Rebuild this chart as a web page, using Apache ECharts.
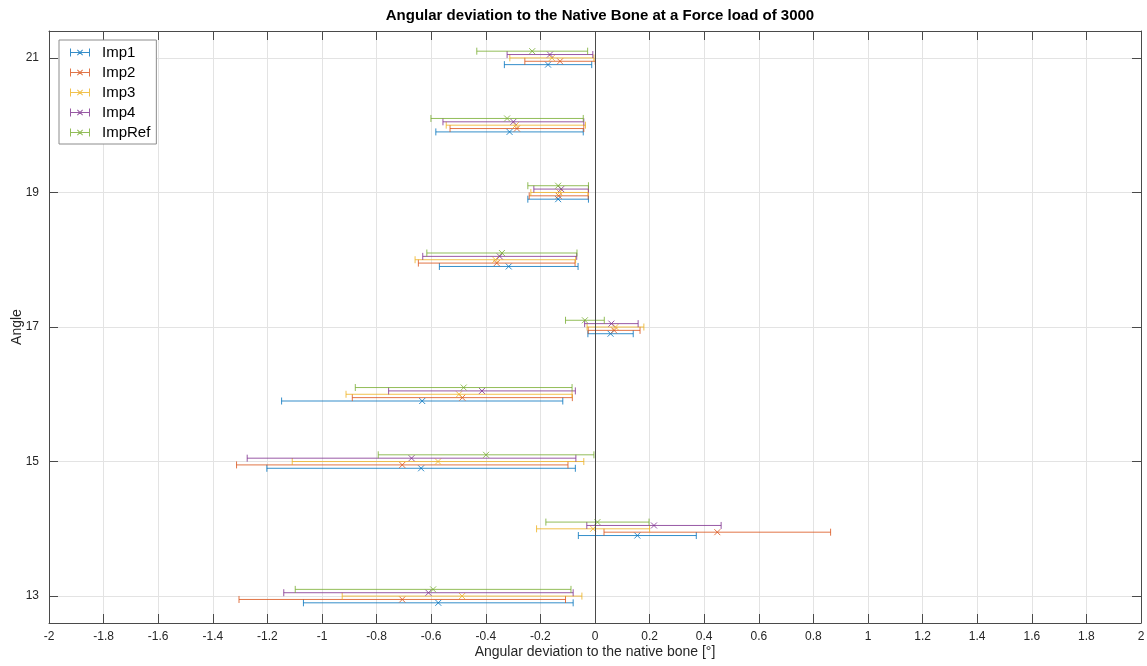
<!DOCTYPE html>
<html><head><meta charset="utf-8">
<script src="https://cdn.jsdelivr.net/npm/echarts@6/dist/echarts.min.js"></script>
<style>html,body{margin:0;padding:0;background:#fff}#c{width:1147px;height:666px}</style>
</head><body><div id="c"></div>
<script>
// ---- data ----
const angles = [13, 14, 15, 16, 17, 18, 19, 20, 21];
const seriesNames = ['Imp1', 'Imp2', 'Imp3', 'Imp4', 'ImpRef'];
// mean angular deviation [deg]
const imp1Mean   = [-0.574, 0.155, -0.637, -0.633, 0.057, -0.316, -0.135, -0.313, -0.172];
const imp2Mean   = [-0.706, 0.448, -0.706, -0.486, 0.070, -0.360, -0.133, -0.286, -0.128];
const imp3Mean   = [-0.487, -0.007, -0.575, -0.498, 0.075, -0.365, -0.130, -0.290, -0.158];
const imp4Mean   = [-0.610, 0.216, -0.672, -0.414, 0.060, -0.349, -0.124, -0.299, -0.165];
const impRefMean = [-0.593, 0.009, -0.399, -0.481, -0.037, -0.341, -0.135, -0.322, -0.230];
// symmetric error (half width)
const imp1Err   = [0.494, 0.216, 0.565, 0.515, 0.083, 0.254, 0.111, 0.270, 0.160];
const imp2Err   = [0.598, 0.415, 0.607, 0.403, 0.095, 0.287, 0.108, 0.245, 0.129];
const imp3Err   = [0.439, 0.207, 0.534, 0.414, 0.104, 0.294, 0.105, 0.255, 0.154];
const imp4Err   = [0.530, 0.246, 0.602, 0.342, 0.098, 0.282, 0.100, 0.258, 0.157];
const impRefErr = [0.505, 0.189, 0.395, 0.397, 0.071, 0.275, 0.111, 0.279, 0.203];
const yTickValues = [13, 15, 17, 19, 21];

// ---- styling ----
const means = [imp1Mean, imp2Mean, imp3Mean, imp4Mean, impRefMean];
const errs = [imp1Err, imp2Err, imp3Err, imp4Err, impRefErr];
const colors = ['#0072BD', '#D95319', '#EDB120', '#7E2F8E', '#77AC30'];
const offsets = [-0.1, -0.05, 0, 0.05, 0.1];
const axisColor = '#4a4a4a';
const txt = '#262626';
const font = 'Liberation Sans, Arial, sans-serif';

const legendIcon = 'path://M0 3.5H20V4.5H0Z M0 0H1V8H0Z M19 0H20V8H19Z M7 1.7L7.7 1L13 6.3L12.3 7Z M13 1.7L12.3 1L7 6.3L7.7 7Z';

function makeRender(idx) {
  return function (params, api) {
    const y = api.value(0) + offsets[idx];
    const m = api.value(1), e = api.value(2);
    const pL = api.coord([m - e, y]);
    const pR = api.coord([m + e, y]);
    const pM = api.coord([m, y]);
    const cap = 3.5, xs = 3;
    const st = { stroke: colors[idx], lineWidth: 1, fill: null, opacity: 0.8 };
    const ln = (x1, y1, x2, y2) => ({ type: 'line', shape: { x1, y1, x2, y2 }, style: st });
    return {
      type: 'group',
      children: [
        ln(pL[0], pL[1], pR[0], pR[1]),
        ln(pL[0], pL[1] - cap, pL[0], pL[1] + cap),
        ln(pR[0], pR[1] - cap, pR[0], pR[1] + cap),
        ln(pM[0] - xs, pM[1] - xs, pM[0] + xs, pM[1] + xs),
        ln(pM[0] - xs, pM[1] + xs, pM[0] + xs, pM[1] - xs)
      ]
    };
  };
}

const series = seriesNames.map((name, i) => {
  const s = {
    name: name,
    type: 'custom',
    xAxisIndex: 0,
    yAxisIndex: 0,
    renderItem: makeRender(i),
    itemStyle: { color: colors[i], opacity: 0.8 },
    encode: { x: [1], y: 0 },
    data: angles.map((a, k) => [a, means[i][k], errs[i][k]]),
    z: 3,
    silent: true
  };
  if (i === 0) {
    s.markLine = {
      silent: true,
      symbol: ['none', 'none'],
      label: { show: false },
      lineStyle: { color: axisColor, width: 1, type: 'solid' },
      data: [{ xAxis: 0 }],
      animation: false
    };
  }
  return s;
});

const chart = echarts.init(document.getElementById('c'), null, { renderer: 'canvas' });
chart.setOption({
  animation: false,
  backgroundColor: '#fff',
  title: {
    text: 'Angular deviation to the Native Bone at a Force load of 3000',
    left: 595, top: 3, textAlign: 'center',
    textStyle: { fontFamily: font, fontSize: 15, fontWeight: 'bold', color: '#000' }
  },
  legend: {
    left: 59, top: 40,
    orient: 'vertical',
    data: seriesNames.map(n => ({ name: n, icon: legendIcon })),
    itemWidth: 20, itemHeight: 8, itemGap: 5,
    backgroundColor: '#fff',
    borderColor: '#8c8c8c', borderWidth: 1,
    padding: [5, 6, 4, 11],
    textStyle: { fontFamily: font, fontSize: 15, color: '#000', lineHeight: 14.5, padding: [0, 0, 0, 7] }
  },
  grid: { left: 49, right: 6, top: 31, bottom: 43, containLabel: false, outerBoundsMode: 'none' },
  xAxis: [{
    type: 'value', min: -2, max: 2, interval: 0.2,
    name: 'Angular deviation to the native bone [°]',
    nameLocation: 'middle', nameGap: 22, nameMoveOverlap: false,
    nameTextStyle: { fontFamily: font, fontSize: 14, color: txt },
    axisLine: { show: true, onZero: false, lineStyle: { color: axisColor, width: 1 } },
    axisTick: { show: true, inside: true, length: 9, lineStyle: { color: axisColor } },
    axisLabel: { fontFamily: font, fontSize: 12, color: txt, margin: 8 },
    splitLine: { show: true, lineStyle: { color: '#e3e3e3', width: 1 } }
  }, {
    type: 'value', min: -2, max: 2, interval: 0.2, position: 'top',
    axisLine: { show: true, onZero: false, lineStyle: { color: axisColor, width: 1 } },
    axisTick: { show: true, inside: true, length: 9, lineStyle: { color: axisColor } },
    axisLabel: { show: false },
    splitLine: { show: false }
  }],
  yAxis: [{
    type: 'value', min: 12.6, max: 21.4, position: 'left',
    name: 'Angle', nameLocation: 'middle', nameGap: 25, nameMoveOverlap: false,
    nameTextStyle: { fontFamily: font, fontSize: 14, color: txt },
    axisLine: { show: true, onZero: false, lineStyle: { color: axisColor, width: 1 } },
    axisTick: { show: true, inside: true, length: 9, customValues: yTickValues, lineStyle: { color: axisColor } },
    axisLabel: { fontFamily: font, fontSize: 12, color: txt, margin: 10, customValues: yTickValues },
    splitLine: { show: true, lineStyle: { color: '#e3e3e3', width: 1 } }
  }, {
    type: 'value', min: 12.6, max: 21.4, position: 'right',
    axisLine: { show: true, onZero: false, lineStyle: { color: axisColor, width: 1 } },
    axisTick: { show: true, inside: true, length: 9, customValues: yTickValues, lineStyle: { color: axisColor } },
    axisLabel: { show: false, customValues: yTickValues },
    splitLine: { show: false }
  }],
  series: series
});
</script>
</body></html>
